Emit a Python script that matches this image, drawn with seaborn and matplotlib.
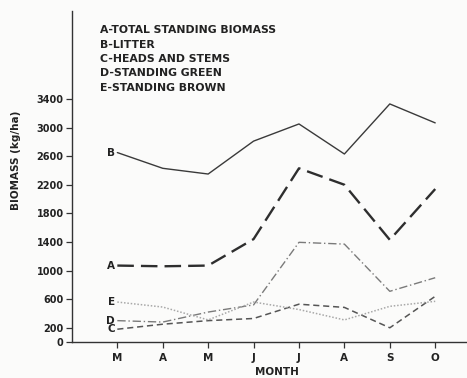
import numpy as np
import pandas as pd
import seaborn as sns
import matplotlib.pyplot as plt

# Monthly biomass (kg/ha)
months = ["M", "A", "M", "J", "J", "A", "S", "O"]
total_standing = [1070, 1060, 1070, 1440, 2430, 2200, 1430, 2140]   # A
litter = [2650, 2430, 2350, 2810, 3050, 2630, 3330, 3065]           # B
heads_stems = [180, 250, 300, 330, 530, 485, 200, 640]              # C
standing_green = [300, 280, 420, 520, 1395, 1370, 710, 900]          # D
standing_brown = [560, 490, 310, 560, 455, 310, 500, 570]           # E

legend_lines = ["A-TOTAL STANDING BIOMASS", "B-LITTER", "C-HEADS AND STEMS",
                "D-STANDING GREEN", "E-STANDING BROWN"]
yticks = [0, 200, 600, 1000, 1400, 1800, 2200, 2600, 3000, 3400]

sns.set_style("ticks")
plt.rcParams["font.family"] = ["DejaVu Sans"]

fig = plt.figure(figsize=(4.67, 3.78), dpi=100, facecolor="#fbfbfa")
ax = fig.add_axes([0.154, 0.095, 0.846, 0.876])
ax.set_facecolor("#fbfbfa")

x = np.arange(1, len(months) + 1)
series = [
    ("A", total_standing, "#2e2e2e", (0, (7, 3)), 1.7),
    ("B", litter, "#3a3a3a", "-", 1.0),
    ("C", heads_stems, "#555555", (0, (4, 2.5)), 1.1),
    ("D", standing_green, "#7a7a7a", (0, (6, 2, 1, 2)), 1.0),
    ("E", standing_brown, "#a8a8a8", (0, (1, 1.2)), 1.1),
]
for letter, vals, col, ls, lw in series:
    df = pd.DataFrame({"x": x, "y": vals})
    sns.lineplot(data=df, x="x", y="y", ax=ax, color=col, linestyle=ls,
                 linewidth=lw, legend=False)
    ax.text(x[0] - 0.05, vals[0], letter, ha="right", va="center",
            fontsize=7.5, fontweight="bold", color="#222222")

ax.set_xlim(0, 8.7)
ax.set_ylim(0, 4630)
ax.set_xticks(x)
ax.set_xticklabels(months, fontsize=7.5, fontweight="bold")
ax.set_yticks(yticks)
ax.set_yticklabels([str(v) for v in yticks], fontsize=7, fontweight="bold")
ax.tick_params(axis="both", length=4, width=0.9, color="#333333",
               labelcolor="#222222", pad=2)
ax.tick_params(axis="x", pad=4)

for s in ["top", "right"]:
    ax.spines[s].set_visible(False)
for s in ["left", "bottom"]:
    ax.spines[s].set_color("#333333")
    ax.spines[s].set_linewidth(1.0)

ax.set_xlabel("MONTH", fontsize=7.5, fontweight="bold", color="#222222")
ax.xaxis.set_label_coords(0.52, -0.075)
ax.set_ylabel("BIOMASS (kg/ha)", fontsize=7.5, fontweight="bold", color="#222222")
ax.yaxis.set_label_coords(-0.13, 0.55)

for i, line in enumerate(legend_lines):
    fig.text(100 / 467, 1 - (30 + i * 14.5) / 378, line, fontsize=7.8,
             fontweight="bold", color="#222222", va="center", ha="left")

fig.savefig("out.png", dpi=100, facecolor=fig.get_facecolor())
